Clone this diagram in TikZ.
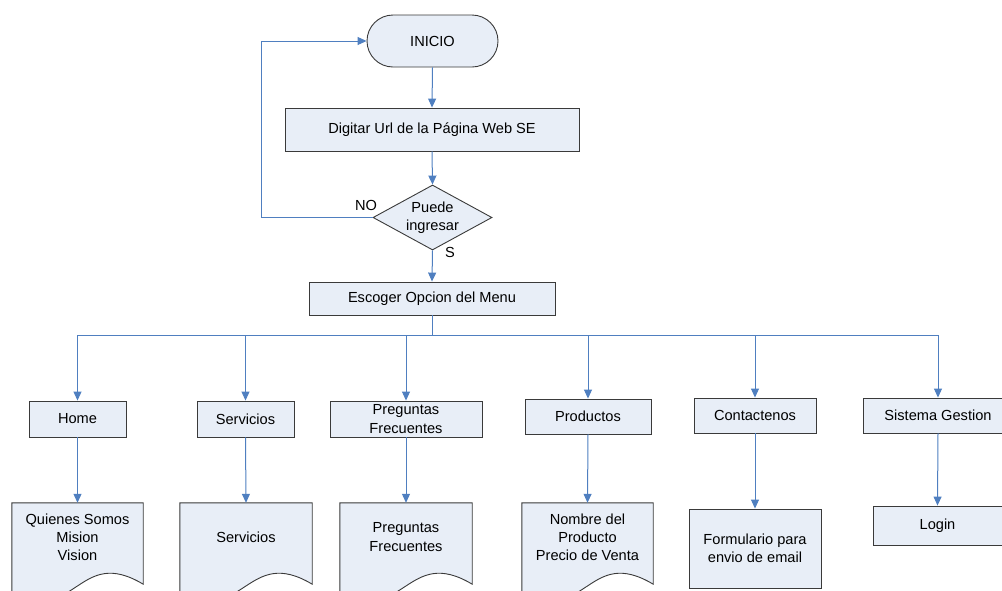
\documentclass[tikz,border=0pt]{standalone}
\usepackage{fontspec}
\setmainfont{Liberation Sans}
\usetikzlibrary{arrows.meta,shapes.geometric,shapes.misc}
\definecolor{boxfill}{HTML}{E8EEF7}
\definecolor{boxline}{HTML}{3A3A3A}
\definecolor{flowblue}{HTML}{4F7FC0}
% document symbol: flat top, wavy bottom edge
\newcommand\docpath[1]{%
  \draw[shp] (#1.north west) -- (#1.north east) -- ([yshift=6pt]#1.south east)
    .. controls +(-65,-39) and +(65,33) .. ([yshift=-2pt]#1.south west) -- cycle;}
\begin{document}
\begin{tikzpicture}[x=1pt,y=-1pt,
  every node/.style={font=\fontsize{14.6}{18.2}\selectfont, inner sep=0pt, align=center},
  shp/.style={draw=boxline, fill=boxfill, line width=0.9pt},
  procbox/.style={shp, rectangle},
  flow/.style={draw=flowblue, line width=1pt, -{Triangle[length=9pt,width=8pt]}},
  bus/.style={draw=flowblue, line width=1pt},
  ghost/.style={rectangle, draw=none}]
\useasboundingbox (0,0) rectangle (1002,590);

% top of the flow
\node[shp, rounded rectangle, minimum width=131, minimum height=52] (start) at (432.5,41) {INICIO};
\node[procbox, minimum width=294, minimum height=43] (url) at (432,129.5) {Digitar Url de la Página Web SE};
\node[shp, diamond, minimum width=119, minimum height=65] (dec) at (432.5,217.5) {};
\node at (dec) {Puede\\ingresar};
\node[procbox, minimum width=246, minimum height=33] (menu) at (432,298.5) {Escoger Opcion del Menu};

\draw[flow] (start.south) -- (url.north);
\draw[flow] (url.south) -- (dec.north);
\draw[flow] (dec.south) -- (menu.north);
\draw[flow] (dec.west) -- ++(-111,0) |- (start.west);
\node (no) at (366,205) {NO};
\node (si) at (450,252) {S};

% menu options
\node[procbox, minimum width=97, minimum height=36] (home) at (77.5,419) {Home};
\node[procbox, minimum width=97, minimum height=36] (serv) at (245.5,419) {Servicios};
\node[procbox, minimum width=152, minimum height=36] (preg) at (406,419) {Preguntas\\Frecuentes};
\node[procbox, minimum width=126, minimum height=35] (prod) at (588,416.5) {Productos};
\node[procbox, minimum width=122, minimum height=35] (cont) at (755,415.5) {Contactenos};
\node[procbox, minimum width=150, minimum height=35] (sist) at (938,415.5) {Sistema Gestion};

\coordinate (bus) at (432,335);
\draw[bus] (menu.south) -- (bus);
\draw[bus] (home.north |- bus) -- (sist.north |- bus);
\foreach \n in {home,serv,preg,prod,cont,sist}
  \draw[flow] (\n.north |- bus) -- (\n.north);

% results of each option
\node[ghost, minimum width=131, minimum height=87] (dhome) at (77.5,546.5) {};
\node[ghost, minimum width=132, minimum height=87] (dserv) at (246,546.5) {};
\node[ghost, minimum width=132, minimum height=87] (dpreg) at (406,546.5) {};
\node[ghost, minimum width=131, minimum height=87] (dprod) at (587.5,546.5) {};
\docpath{dhome}
\docpath{dserv}
\docpath{dpreg}
\docpath{dprod}
\node at (77.5,537) {Quienes Somos\\Mision\\Vision};
\node at (246,537) {Servicios};
\node at (406,537) {Preguntas\\Frecuentes};
\node at (587.5,537) {Nombre del\\Producto\\Precio de Venta};
\node[procbox, minimum width=132, minimum height=79] (form) at (755,548.5) {Formulario para\\envio de email};
\node[procbox, minimum width=129, minimum height=39] (login) at (937.5,525.5) {Login};

\draw[flow] (home.south) -- (dhome.north);
\draw[flow] (serv.south) -- (dserv.north);
\draw[flow] (preg.south) -- (dpreg.north);
\draw[flow] (prod.south) -- (dprod.north);
\draw[flow] (cont.south) -- (form.north);
\draw[flow] (sist.south) -- (login.north);
\end{tikzpicture}
\end{document}
